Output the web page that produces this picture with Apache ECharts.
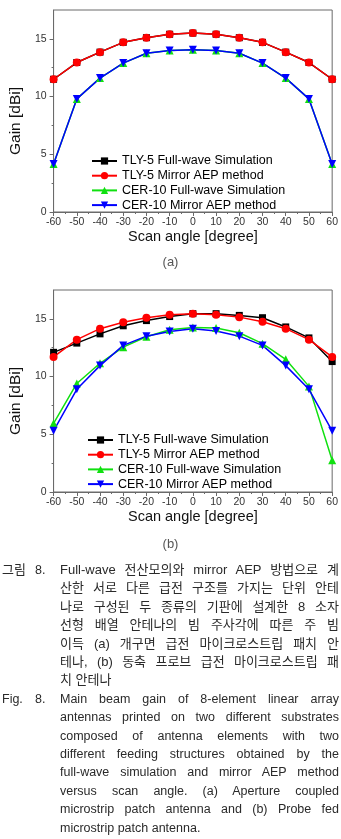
<!DOCTYPE html>
<html><head><meta charset="utf-8">
<script src="https://cdn.jsdelivr.net/npm/echarts@6/dist/echarts.min.js"></script>
<style>
html,body{margin:0;padding:0;background:#fff;width:341px;height:839px;overflow:hidden;}
#chart{position:absolute;left:0;top:0;width:341px;height:556px;}
.sub{position:absolute;width:341px;left:0;text-align:center;font:13px "Liberation Sans",Arial,sans-serif;color:#555;}
.cap{position:absolute;left:0;width:341px;font-family:"Liberation Sans","Noto Sans CJK KR",sans-serif;color:#2a2a2a;}
.lab{position:absolute;left:2px;font-size:12.5px;line-height:18.4px;}
.num{position:absolute;left:35px;font-size:12.5px;line-height:18.4px;}
.ln{margin-left:60px;width:279px;text-align:justify;text-align-last:justify;line-height:18.4px;height:18.4px;white-space:nowrap;}
.ko .ln{font-size:13px;}
.en .ln{font-size:12.5px;}
.ln.last{text-align-last:left;}
</style>
</head><body>
<div id="chart"></div>
<div class="sub" style="top:254px;">(a)</div>
<div class="sub" style="top:536px;">(b)</div>
<div class="cap ko" style="top:561px;">
  <div class="lab" style="font-size:13px;">그림</div><div class="num">8.</div>
  <div class="ln">Full-wave 전산모의와 mirror AEP 방법으로 계</div>
  <div class="ln">산한 서로 다른 급전 구조를 가지는 단위 안테</div>
  <div class="ln">나로 구성된 두 종류의 기판에 설계한 8 소자</div>
  <div class="ln">선형 배열 안테나의 빔 주사각에 따른 주 빔</div>
  <div class="ln">이득 (a) 개구면 급전 마이크로스트립 패치 안</div>
  <div class="ln">테나, (b) 동축 프로브 급전 마이크로스트립 패</div>
  <div class="ln last">치 안테나</div>
</div>
<div class="cap en" style="top:689.8px;">
  <div class="lab">Fig.</div><div class="num">8.</div>
  <div class="ln">Main beam gain of 8-element linear array</div>
  <div class="ln">antennas printed on two different substrates</div>
  <div class="ln">composed of antenna elements with two</div>
  <div class="ln">different feeding structures obtained by the</div>
  <div class="ln">full-wave simulation and mirror AEP method</div>
  <div class="ln">versus scan angle. (a) Aperture coupled</div>
  <div class="ln">microstrip patch antenna and (b) Probe fed</div>
  <div class="ln last">microstrip patch antenna.</div>
</div>
<script>
// ---- data ----
const angles = [-60, -50, -40, -30, -20, -10, 0, 10, 20, 30, 40, 50, 60];
const seriesNames = ['TLY-5 Full-wave Simulation', 'TLY-5 Mirror AEP method', 'CER-10 Full-wave Simulation', 'CER-10 Mirror AEP method'];
// (a) Aperture coupled
const aTlyFull   = [11.5, 12.95, 13.85, 14.7, 15.1, 15.4, 15.5, 15.4, 15.1, 14.7, 13.85, 12.95, 11.5];
const aTlyMirror = [11.5, 12.95, 13.85, 14.7, 15.1, 15.4, 15.5, 15.4, 15.1, 14.7, 13.85, 12.95, 11.5];
const aCerFull   = [4.15, 9.8, 11.6, 12.9, 13.75, 14.0, 14.05, 14.0, 13.75, 12.9, 11.6, 9.8, 4.15];
const aCerMirror = [4.15, 9.8, 11.6, 12.9, 13.75, 14.0, 14.05, 14.0, 13.75, 12.9, 11.6, 9.8, 4.15];
// (b) Probe fed
const bTlyFull   = [12.1, 12.9, 13.7, 14.4, 14.85, 15.2, 15.45, 15.45, 15.3, 15.1, 14.3, 13.35, 11.3];
const bTlyMirror = [11.7, 13.2, 14.15, 14.7, 15.1, 15.35, 15.45, 15.35, 15.15, 14.75, 14.15, 13.2, 11.7];
const bCerFull   = [5.95, 9.4, 11.15, 12.55, 13.45, 14.05, 14.25, 14.2, 13.8, 12.85, 11.5, 9.15, 2.75];
const bCerMirror = [5.3, 8.9, 10.95, 12.7, 13.5, 13.9, 14.15, 13.95, 13.5, 12.7, 10.95, 8.9, 5.3];
const yTicks = [0, 5, 10, 15];
const xTitle = 'Scan angle [degree]';
const yTitle = 'Gain [dBi]';

// ---- chart ----
const FONT = '"Liberation Sans", Arial, sans-serif';
const AX = '#6a6a6a';
const colors = ['#000000', '#ff0000', '#10e010', '#0000ff'];
const symbols = ['rect', 'circle', 'triangle', 'triangle'];
const rot = [0, 0, 0, 180];
const sizes = [7, 8, 8, 8];

function grid(top) {
  return {left: 35, right: 8, top: top, height: 202, show: true, borderColor: AX, borderWidth: 1, backgroundColor: 'transparent'};
}
function xAxis(gi) {
  return {
    type: 'value', gridIndex: gi, min: -60, max: 60, interval: 10,
    name: xTitle, nameLocation: 'middle', nameGap: 17,
    nameTextStyle: {fontFamily: FONT, fontSize: 14.5, color: '#111'},
    axisLine: {show: true, onZero: false, lineStyle: {color: AX, width: 1}},
    axisTick: {show: true, length: 4, lineStyle: {color: AX}},
    minorTick: {show: true, splitNumber: 2, length: 2, lineStyle: {color: AX}},
    axisLabel: {fontFamily: FONT, fontSize: 10.5, color: '#333', margin: 5},
    splitLine: {show: false}
  };
}
function yAxis(gi) {
  return {
    type: 'value', gridIndex: gi, min: 0, max: 17.5, interval: 5,
    name: yTitle, nameLocation: 'middle', nameGap: 14,
    nameTextStyle: {fontFamily: FONT, fontSize: 15.5, color: '#111', padding: [0, 20, 0, 0]},
    axisLine: {show: true, onZero: false, lineStyle: {color: AX, width: 1}},
    axisTick: {show: true, length: 4, lineStyle: {color: AX}, customValues: yTicks},
    minorTick: {show: true, splitNumber: 2, length: 2, lineStyle: {color: AX}},
    axisLabel: {fontFamily: FONT, fontSize: 10.5, color: '#333', margin: 7, customValues: yTicks},
    splitLine: {show: false}
  };
}
function mk(gi, idx, vals) {
  return {
    type: 'line', name: seriesNames[idx], xAxisIndex: gi, yAxisIndex: gi,
    data: angles.map((a, i) => [a, vals[i]]),
    symbol: symbols[idx], symbolSize: sizes[idx], symbolRotate: rot[idx], showAllSymbol: true,
    lineStyle: {color: colors[idx], width: 1.5},
    itemStyle: {color: colors[idx]},
    emphasis: {disabled: true}, animation: false
  };
}
function legend(top, left) {
  return {
    orient: 'vertical', top: top, left: left, padding: 0, itemGap: 0.7,
    itemWidth: 25, itemHeight: 9,
    textStyle: {fontFamily: FONT, fontSize: 12.5, color: '#000', lineHeight: 14},
    data: seriesNames
  };
}
const chart = echarts.init(document.getElementById('chart'), null, {renderer: 'canvas'});
chart.setOption({
  animation: false,
  grid: [grid(10), grid(290)],
  xAxis: [xAxis(0), xAxis(1)],
  yAxis: [yAxis(0), yAxis(1)],
  legend: [legend(154, 91), legend(433, 87)],
  series: [
    mk(0, 0, aTlyFull), mk(0, 1, aTlyMirror), mk(0, 2, aCerFull), mk(0, 3, aCerMirror),
    mk(1, 0, bTlyFull), mk(1, 1, bTlyMirror), mk(1, 2, bCerFull), mk(1, 3, bCerMirror)
  ]
});
</script>
</body></html>
